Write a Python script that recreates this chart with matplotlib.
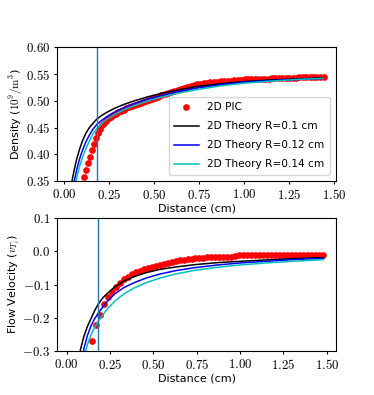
import numpy as np
import matplotlib
matplotlib.use("Agg")
import matplotlib.pyplot as plt

plt.rcParams['mathtext.fontset'] = 'cm'
plt.rcParams['font.size'] = 8

# Density, 2D PIC points
dens_pic_x = [0.111, 0.122, 0.133, 0.144, 0.155, 0.166, 0.177, 0.188, 0.199, 0.210,
              0.222, 0.234, 0.247, 0.260, 0.273, 0.287, 0.301, 0.315, 0.330, 0.345,
              0.360, 0.376, 0.392, 0.408, 0.424, 0.440, 0.456, 0.472, 0.489, 0.506,
              0.523, 0.540, 0.558, 0.576, 0.594, 0.612, 0.630, 0.648, 0.666, 0.684,
              0.702, 0.720, 0.738, 0.756, 0.775, 0.794, 0.813, 0.832, 0.851, 0.870,
              0.889, 0.908, 0.927, 0.946, 0.965, 0.984, 1.003, 1.022, 1.041, 1.060,
              1.079, 1.098, 1.117, 1.136, 1.155, 1.174, 1.193, 1.212, 1.231, 1.250,
              1.269, 1.288, 1.307, 1.326, 1.345, 1.364, 1.383, 1.402, 1.421, 1.444]
dens_pic_y = [0.357, 0.370, 0.383, 0.395, 0.407, 0.419, 0.430, 0.440, 0.448, 0.454,
              0.459, 0.463, 0.467, 0.470, 0.473, 0.476, 0.479, 0.481, 0.483, 0.486,
              0.488, 0.490, 0.492, 0.494, 0.496, 0.498, 0.500, 0.502, 0.504, 0.506,
              0.508, 0.510, 0.512, 0.514, 0.516, 0.518, 0.520, 0.522, 0.524, 0.526,
              0.528, 0.529, 0.531, 0.532, 0.533, 0.534, 0.535, 0.535, 0.536, 0.537,
              0.537, 0.538, 0.538, 0.539, 0.539, 0.539, 0.540, 0.540, 0.540, 0.541,
              0.541, 0.541, 0.541, 0.541, 0.542, 0.543, 0.543, 0.543, 0.543, 0.543,
              0.543, 0.543, 0.544, 0.544, 0.544, 0.544, 0.544, 0.544, 0.544, 0.544]

# Density, theory curves
dens_th_x = [0.025, 0.04, 0.055, 0.07, 0.085, 0.10, 0.12, 0.14, 0.16, 0.182, 0.21, 0.24,
             0.28, 0.33, 0.39, 0.46, 0.54, 0.63, 0.74, 0.87, 1.0, 1.15, 1.3, 1.44]
dens_r010 = [0.310, 0.344, 0.370, 0.392, 0.409, 0.424, 0.439, 0.450, 0.458, 0.466, 0.473, 0.479,
             0.486, 0.493, 0.500, 0.507, 0.514, 0.520, 0.527, 0.532, 0.536, 0.539, 0.541, 0.543]
dens_r012 = [0.280, 0.318, 0.348, 0.372, 0.391, 0.406, 0.423, 0.436, 0.447, 0.456, 0.464, 0.471,
             0.479, 0.487, 0.495, 0.503, 0.510, 0.517, 0.524, 0.530, 0.535, 0.538, 0.540, 0.542]
dens_r014 = [0.250, 0.295, 0.330, 0.357, 0.377, 0.393, 0.410, 0.425, 0.438, 0.448, 0.458, 0.466,
             0.474, 0.483, 0.491, 0.499, 0.507, 0.514, 0.521, 0.528, 0.533, 0.537, 0.540, 0.542]

# Flow velocity, 2D PIC points
vel_pic_x = [0.148, 0.170, 0.192, 0.215, 0.237, 0.260, 0.283, 0.306, 0.329, 0.352,
             0.375, 0.398, 0.421, 0.444, 0.467, 0.490, 0.513, 0.536, 0.559, 0.582,
             0.605, 0.628, 0.651, 0.674, 0.697, 0.720, 0.743, 0.766, 0.789, 0.812,
             0.835, 0.858, 0.881, 0.904, 0.927, 0.950, 0.973, 0.996, 1.019, 1.042,
             1.065, 1.088, 1.111, 1.134, 1.157, 1.180, 1.203, 1.226, 1.249, 1.272,
             1.295, 1.318, 1.341, 1.364, 1.387, 1.410, 1.433, 1.456, 1.480]
vel_pic_y = [-0.269, -0.222, -0.190, -0.159, -0.137, -0.122, -0.107, -0.094, -0.084, -0.076,
             -0.069, -0.063, -0.058, -0.053, -0.049, -0.046, -0.043, -0.040, -0.037, -0.034,
             -0.031, -0.029, -0.027, -0.025, -0.023, -0.022, -0.021, -0.020, -0.019, -0.018,
             -0.018, -0.017, -0.017, -0.016, -0.016, -0.016, -0.015, -0.012, -0.012, -0.012,
             -0.012, -0.012, -0.012, -0.012, -0.012, -0.012, -0.012, -0.012, -0.012, -0.012,
             -0.012, -0.012, -0.012, -0.012, -0.012, -0.012, -0.012, -0.011, -0.010]

# Flow velocity, theory curves
vel_th_x = [0.02, 0.04, 0.06, 0.08, 0.10, 0.12, 0.14, 0.16, 0.182, 0.21, 0.24, 0.28,
            0.33, 0.39, 0.46, 0.54, 0.63, 0.74, 0.87, 1.0, 1.15, 1.3, 1.48]
vel_r010 = [-0.90, -0.55, -0.38, -0.295, -0.255, -0.226, -0.203, -0.180, -0.159, -0.139, -0.124, -0.106,
            -0.089, -0.076, -0.064, -0.054, -0.047, -0.040, -0.034, -0.030, -0.026, -0.022, -0.019]
vel_r012 = [-1.00, -0.70, -0.48, -0.360, -0.292, -0.253, -0.225, -0.204, -0.186, -0.166, -0.147, -0.127,
            -0.109, -0.094, -0.080, -0.068, -0.058, -0.049, -0.041, -0.035, -0.030, -0.025, -0.021]
vel_r014 = [-1.10, -0.80, -0.56, -0.420, -0.325, -0.280, -0.252, -0.230, -0.211, -0.190, -0.170, -0.149,
            -0.128, -0.110, -0.094, -0.080, -0.068, -0.057, -0.048, -0.041, -0.035, -0.030, -0.025]

x_mark = 0.182   # vertical reference line

fig = plt.figure(figsize=(3.74, 3.95), dpi=100)
ax1 = fig.add_axes([0.153, 0.542, 0.745, 0.338])
ax2 = fig.add_axes([0.153, 0.111, 0.745, 0.337])

ax1.plot(dens_pic_x, dens_pic_y, 'o', color='r', ms=3.8, label='2D PIC')
ax1.plot(dens_th_x, dens_r010, color='k', lw=1.1, label='2D Theory R=0.1 cm')
ax1.plot(dens_th_x, dens_r012, color='b', lw=1.1, label='2D Theory R=0.12 cm')
ax1.plot(dens_th_x, dens_r014, color='c', lw=1.1, label='2D Theory R=0.14 cm')
ax1.axvline(x_mark, color='C0', lw=1.0)
ax1.set_xlim(-0.039, 1.51)
ax1.set_ylim(0.35, 0.60)
ax1.set_xlabel('Distance (cm)', labelpad=1)
ax1.set_ylabel(r'Density ($10^9/\mathrm{m}^3$)', labelpad=0.5)
ax1.legend(loc='lower right', fontsize=7.6, labelspacing=0.85, handlelength=2.3,
           borderaxespad=0.6, borderpad=0.5)

ax2.plot(vel_pic_x, vel_pic_y, 'o', color='r', ms=3.8)
ax2.plot(vel_th_x, vel_r010, color='k', lw=1.1)
ax2.plot(vel_th_x, vel_r012, color='b', lw=1.1)
ax2.plot(vel_th_x, vel_r014, color='c', lw=1.1)
ax2.axvline(x_mark, color='C0', lw=1.0)
ax2.set_xlim(-0.054, 1.552)
ax2.set_ylim(-0.3, 0.1)
ax2.set_xlabel('Distance (cm)', labelpad=1)
ax2.set_ylabel(r'Flow Velocity ($v_{T_i}$)', labelpad=0.5)

xt = [0.0, 0.25, 0.5, 0.75, 1.0, 1.25, 1.5]
for ax in (ax1, ax2):
    ax.set_xticks(xt)
    ax.set_xticklabels([f'${v:.2f}$' for v in xt])
yt1 = [0.35, 0.40, 0.45, 0.50, 0.55, 0.60]
ax1.set_yticks(yt1)
ax1.set_yticklabels([f'${v:.2f}$' for v in yt1])
yt2 = [-0.3, -0.2, -0.1, 0.0, 0.1]
ax2.set_yticks(yt2)
ax2.set_yticklabels([f'${v:.1f}$' for v in yt2])
for ax in (ax1, ax2):
    ax.tick_params(labelsize=9.3, length=2.5, pad=2.5)

fig.savefig('out.png', dpi=100)
